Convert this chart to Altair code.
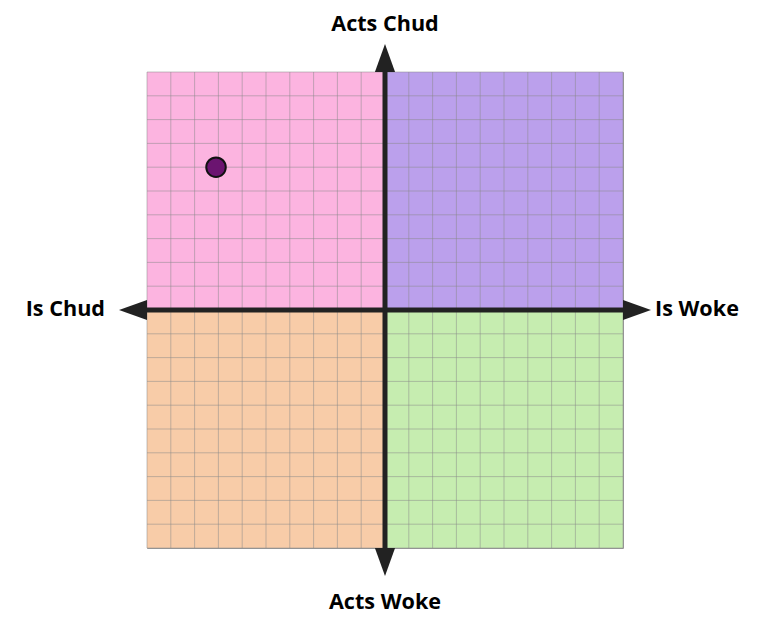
import altair as alt
import pandas as pd

# Data
quad_x = [-10, 0, -10, 0]
quad_x2 = [0, 10, 0, 10]
quad_y = [0, 0, -10, -10]
quad_y2 = [10, 10, 0, 0]
quad_color = ["#FCB4E0", "#BBA0EC", "#F8CCA8", "#C6EDB0"]
grid_vals = list(range(-10, 11))
point_x = [-7.1]
point_y = [6.0]
labels = ["Acts Chud", "Acts Woke", "Is Chud", "Is Woke"]

X = alt.Scale(domain=[-10, 10], nice=False, zero=False)
Y = alt.Scale(domain=[-10, 10], nice=False, zero=False)
FONT = "Open Sans"

quads = pd.DataFrame({"x": quad_x, "x2": quad_x2, "y": quad_y, "y2": quad_y2, "c": quad_color})
grid = pd.DataFrame({"v": grid_vals, "lo": [-10] * len(grid_vals), "hi": [10] * len(grid_vals)})
pt = pd.DataFrame({"x": point_x, "y": point_y})
axes_df = pd.DataFrame({"o": [0], "lo": [-10], "hi": [10]})

rects = alt.Chart(quads).mark_rect().encode(
    x=alt.X("x:Q", scale=X, axis=None), x2="x2:Q",
    y=alt.Y("y:Q", scale=Y, axis=None), y2="y2:Q",
    color=alt.Color("c:N", scale=None),
)

vgrid = alt.Chart(grid).mark_rule(color="#8a8a8a", opacity=0.5, strokeWidth=1).encode(
    x=alt.X("v:Q", scale=X, axis=None),
    y=alt.Y("lo:Q", scale=Y, axis=None), y2="hi:Q",
)
hgrid = alt.Chart(grid).mark_rule(color="#8a8a8a", opacity=0.5, strokeWidth=1).encode(
    y=alt.Y("v:Q", scale=Y, axis=None),
    x=alt.X("lo:Q", scale=X, axis=None), x2="hi:Q",
)

vaxis = alt.Chart(axes_df).mark_rule(color="#222222", strokeWidth=5).encode(
    x=alt.X("o:Q", scale=X, axis=None),
    y=alt.Y("lo:Q", scale=Y, axis=None), y2="hi:Q",
)
haxis = alt.Chart(axes_df).mark_rule(color="#222222", strokeWidth=5).encode(
    y=alt.Y("o:Q", scale=Y, axis=None),
    x=alt.X("lo:Q", scale=X, axis=None), x2="hi:Q",
)

tri_up = "M0,-1L0.72,1L-0.72,1Z"
tri_down = "M0,1L0.72,-1L-0.72,-1Z"
tri_left = "M-1,0L1,-0.72L1,0.72Z"
tri_right = "M1,0L-1,-0.72L-1,0.72Z"

def arrow(xv, yv, shape, dx, dy):
    df = pd.DataFrame({"x": [xv], "y": [yv]})
    return alt.Chart(df).mark_point(
        shape=shape, size=784, filled=True, color="#222222", opacity=1,
        xOffset=dx, yOffset=dy, clip=False
    ).encode(x=alt.X("x:Q", scale=X, axis=None), y=alt.Y("y:Q", scale=Y, axis=None))

arrows = [
    arrow(0, 10, tri_up, 0, -14),
    arrow(0, -10, tri_down, 0, 14),
    arrow(-10, 0, tri_left, -14, 0),
    arrow(10, 0, tri_right, 14, 0),
]

def label(text, xv, yv, align, dx, dy):
    df = pd.DataFrame({"x": [xv], "y": [yv], "t": [text]})
    return alt.Chart(df).mark_text(
        font=FONT, fontSize=21.6, fontWeight="bold", color="#000000",
        align=align, baseline="middle", dx=dx, dy=dy, clip=False
    ).encode(x=alt.X("x:Q", scale=X, axis=None), y=alt.Y("y:Q", scale=Y, axis=None),
             text="t:N")

texts = [
    label(labels[0], 0, 10, "center", 0, -47),
    label(labels[1], 0, -10, "center", 0, 55),
    label(labels[2], -10, 0, "right", -42, 0),
    label(labels[3], 10, 0, "left", 32, 0),
]

points = alt.Chart(pt).mark_point(
    shape="circle", size=380, filled=True, fill="#6B1470", stroke="#111111",
    strokeWidth=2, opacity=1
).encode(x=alt.X("x:Q", scale=X, axis=None), y=alt.Y("y:Q", scale=Y, axis=None))

chart = alt.layer(rects, vgrid, hgrid, vaxis, haxis, *arrows, points, *texts).properties(
    width=476, height=476,
    autosize=alt.AutoSizeParams(type="none"),
    padding={"left": 139, "top": 64, "right": 139, "bottom": 80},
).configure_view(stroke="#999999", strokeWidth=1)

chart.save("out.html", embed_options={"renderer": "svg", "actions": False})
